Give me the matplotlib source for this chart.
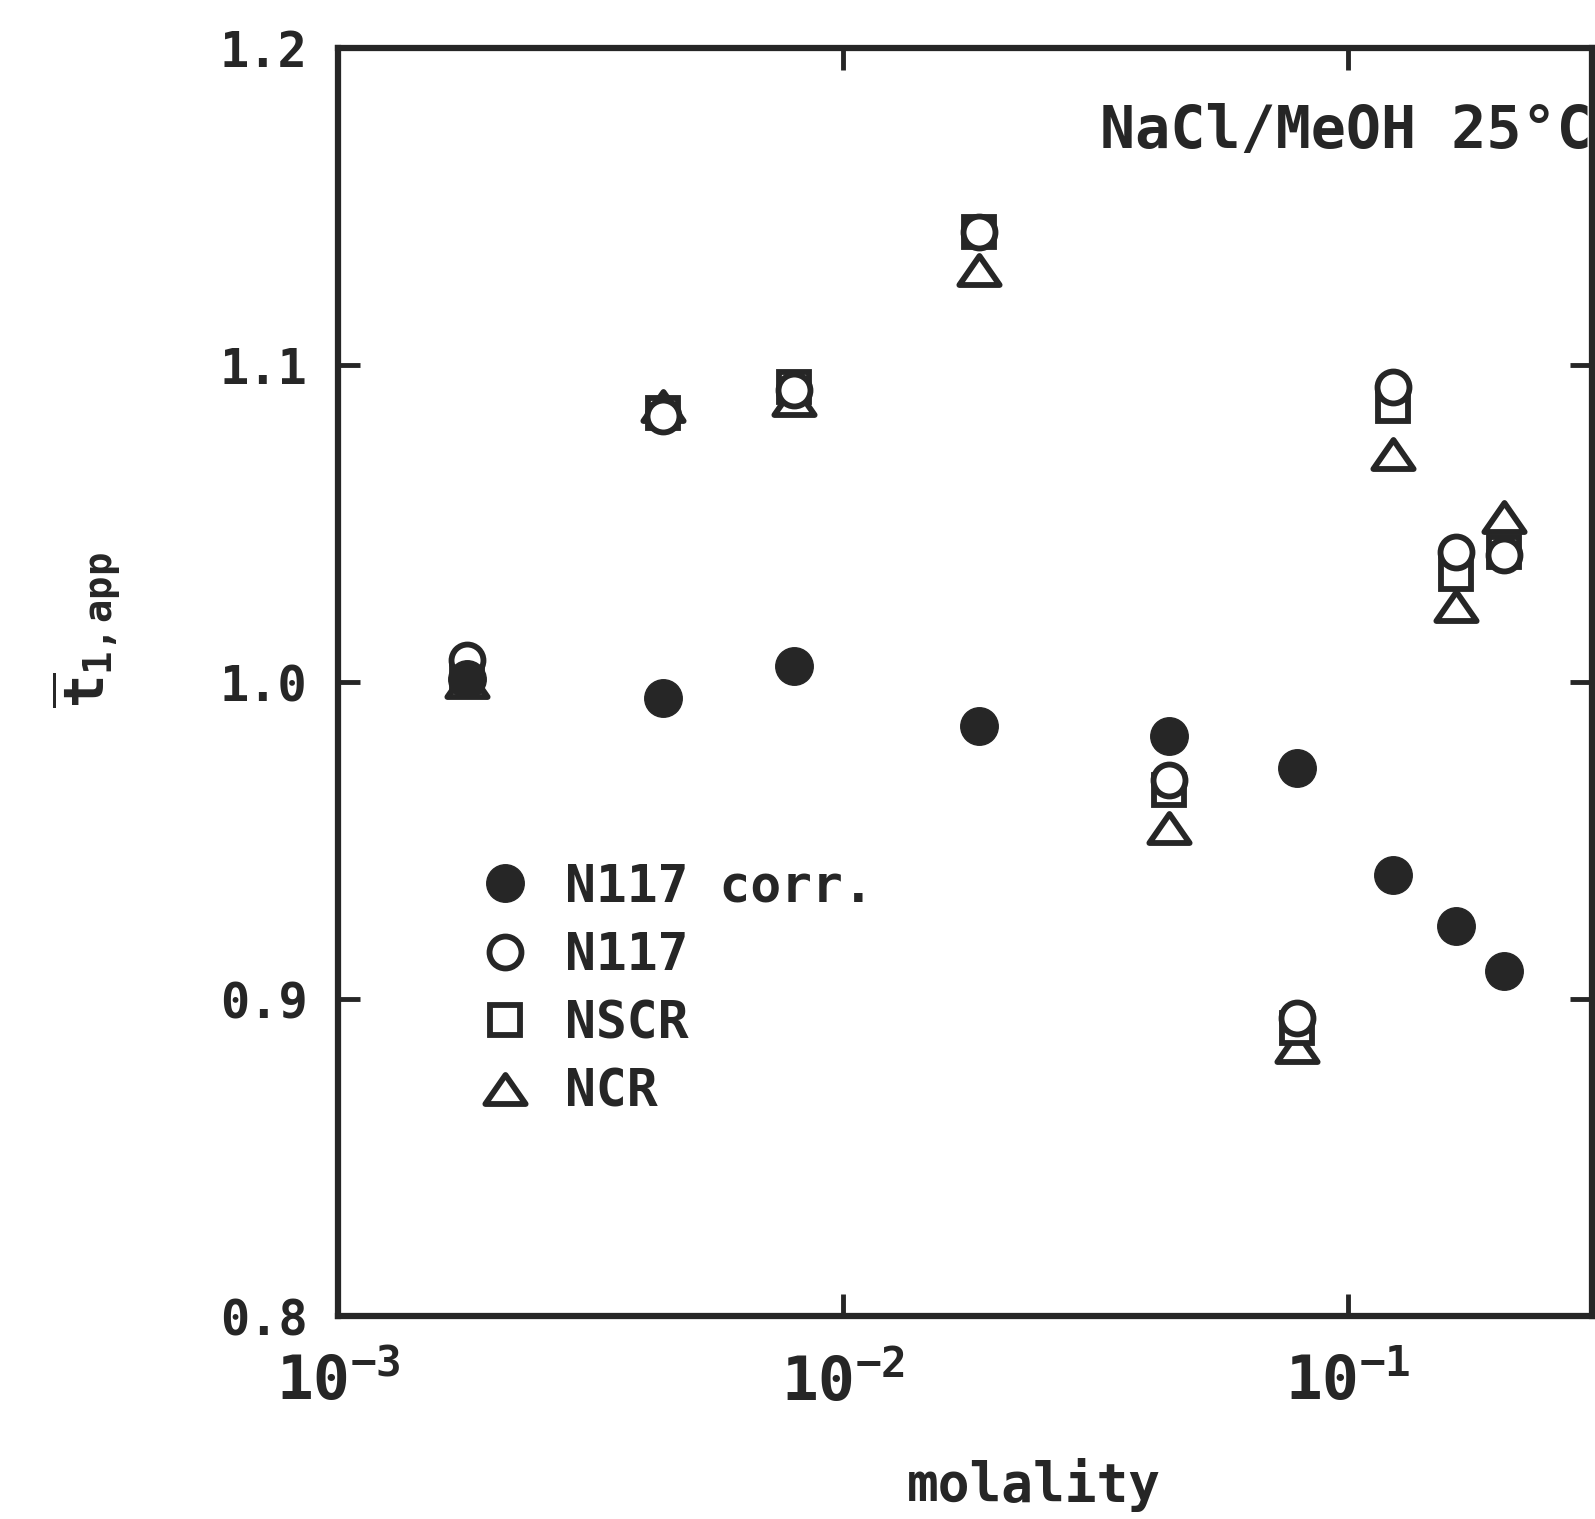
import matplotlib
matplotlib.use('Agg')
import matplotlib.pyplot as plt
from matplotlib.path import Path
from matplotlib.ticker import FixedLocator, NullLocator

# ---- data ----
molality = [0.0018, 0.0044, 0.0080, 0.0186, 0.0443, 0.0794, 0.123, 0.164, 0.204]
n117_corr = [1.001, 0.995, 1.005, 0.986, 0.983, 0.973, 0.939, 0.923, 0.909]
n117 = [1.007, 1.084, 1.092, 1.142, 0.969, 0.894, 1.093, 1.041, 1.040]
nscr = [1.002, 1.085, 1.093, 1.142, 0.966, 0.891, 1.087, 1.034, 1.041]
ncr = [1.000, 1.087, 1.089, 1.130, 0.954, 0.885, 1.072, 1.024, 1.052]

series_labels = ['N117 corr.', 'N117', 'NSCR', 'NCR']
y_ticks = [0.8, 0.9, 1.0, 1.1, 1.2]
y_tick_labels = ['0.8', '0.9', '1.0', '1.1', '1.2']
x_ticks = [1e-3, 1e-2, 1e-1]
x_tick_labels = [r'$\mathbf{10^{-3}}$', r'$\mathbf{10^{-2}}$', r'$\mathbf{10^{-1}}$']

INK = '#262626'
FONT = 'DejaVu Sans Mono'
plt.rcParams['font.family'] = [FONT]
plt.rcParams['font.weight'] = 'bold'
plt.rcParams['mathtext.fontset'] = 'custom'
plt.rcParams['mathtext.rm'] = FONT + ':bold'
plt.rcParams['mathtext.bf'] = FONT + ':bold'
plt.rcParams['mathtext.it'] = FONT + ':bold'

fig = plt.figure(figsize=(15.95, 15.19), dpi=100)
ax = fig.add_axes([0.212, 0.1336, 0.786, 0.8348])

tri = Path([(0, 0.72), (-1, -0.72), (1, -0.72), (0, 0.72)],
           [Path.MOVETO, Path.LINETO, Path.LINETO, Path.CLOSEPOLY])
ax.plot(molality, ncr, linestyle='none', marker=tri, ms=29, mfc='white',
        mec=INK, mew=4.2, label=series_labels[3], zorder=3)
ax.plot(molality, nscr, linestyle='none', marker='s', ms=21, mfc='white',
        mec=INK, mew=4.2, label=series_labels[2], zorder=4)
ax.plot(molality, n117, linestyle='none', marker='o', ms=23, mfc='white',
        mec=INK, mew=4.2, label=series_labels[1], zorder=5)
ax.plot(molality, n117_corr, linestyle='none', marker='o', ms=27, mfc=INK,
        mec=INK, mew=1, label=series_labels[0], zorder=6)

ax.set_xscale('log')
ax.set_xlim(1e-3, 10 ** -0.517)
ax.set_ylim(0.8, 1.2)

ax.xaxis.set_major_locator(FixedLocator(x_ticks))
ax.xaxis.set_minor_locator(NullLocator())
ax.set_xticklabels(x_tick_labels)
ax.yaxis.set_major_locator(FixedLocator(y_ticks))
ax.set_yticklabels(y_tick_labels)

ax.tick_params(axis='both', which='major', direction='in', length=16,
               width=3.5, color=INK, top=True, right=True, labelcolor=INK)
ax.tick_params(axis='y', labelsize=35, pad=22)
ax.tick_params(axis='x', labelsize=44, pad=27)
for lbl in ax.get_yticklabels() + ax.get_xticklabels():
    lbl.set_fontweight('bold')

for sp in ax.spines.values():
    sp.set_linewidth(4.5)
    sp.set_color(INK)

ax.set_xlabel('molality', fontsize=38, fontweight='bold', color=INK)
ax.xaxis.set_label_coords(0.555, -0.112)
ax.set_ylabel(r'$\overline{t}_{1,app}$', fontsize=40, color=INK)
ax.yaxis.set_label_coords(-0.171, 0.541)

ax.text(0.608, 0.921, 'NaCl/MeOH 25°C', transform=ax.transAxes,
        fontsize=42, fontweight='bold', color=INK, ha='left', va='baseline',
        clip_on=False)

handles, labels = ax.get_legend_handles_labels()
order = [3, 2, 1, 0]
leg = ax.legend([handles[i] for i in order], [labels[i] for i in order],
                loc='upper left', bbox_to_anchor=(0.094, 0.378), frameon=False,
                handlelength=0.9, handletextpad=0.72,
                labelspacing=0.36, borderpad=0.0, numpoints=1,
                prop={'family': FONT, 'weight': 'bold', 'size': 37})
for t in leg.get_texts():
    t.set_color(INK)

fig.savefig('out.png', dpi=100)
